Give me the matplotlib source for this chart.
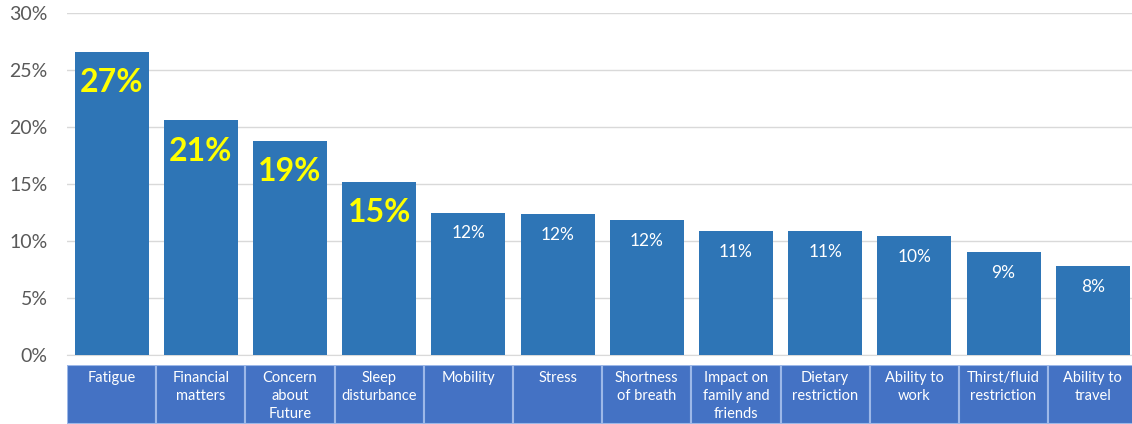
import numpy as np
import matplotlib
matplotlib.use('Agg')
import matplotlib.pyplot as plt
from matplotlib.ticker import FuncFormatter

categories = ['Fatigue', 'Financial\nmatters', 'Concern\nabout\nFuture', 'Sleep\ndisturbance',
              'Mobility', 'Stress', 'Shortness\nof breath', 'Impact on\nfamily and\nfriends',
              'Dietary\nrestriction', 'Ability to\nwork', 'Thirst/fluid\nrestriction', 'Ability to\ntravel']
values = [26.6, 20.6, 18.8, 15.2, 12.5, 12.4, 11.8, 10.9, 10.9, 10.4, 9.0, 7.8]
value_labels = ['27%', '21%', '19%', '15%', '12%', '12%', '12%', '11%', '11%', '10%', '9%', '8%']
yticks = [0, 5, 10, 15, 20, 25, 30]

plt.rcParams['font.family'] = ['Lato', 'DejaVu Sans']

W, H = 1132, 424
fig = plt.figure(figsize=(W / 100, H / 100), dpi=100)

# main bar axes
ax = fig.add_axes([67 / W, (H - 355) / H, (W - 67) / W, (355 - 13) / H])
x = np.arange(len(values))
bars = ax.bar(x, values, width=0.83, color='#2E75B6', zorder=3)
ax.set_xlim(-0.5, 11.44)
ax.set_ylim(0, 30)
ax.set_yticks(yticks)
ax.yaxis.set_major_formatter(FuncFormatter(lambda v, p: '%d%%' % v))
ax.tick_params(axis='y', length=0, labelsize=14, labelcolor='#595959', pad=14)
ax.tick_params(axis='x', length=0, labelbottom=False)
ax.grid(axis='y', color='#D9D9D9', linewidth=1, zorder=0)
for s in ['top', 'right', 'left']:
    ax.spines[s].set_visible(False)
ax.spines['bottom'].set_color('#D9D9D9')

# value labels: first four big yellow, rest white
for i, (b, lab) in enumerate(zip(bars, value_labels)):
    cx = b.get_x() + b.get_width() / 2
    top = b.get_height()
    if i < 4:
        ax.annotate(lab, (cx, top), xytext=(0, -31), textcoords='offset pixels',
                    ha='center', va='center', fontsize=23, fontweight='bold',
                    color='#FFFF00', zorder=4)
    else:
        ax.annotate(lab, (cx, top), xytext=(0, -21), textcoords='offset pixels',
                    ha='center', va='center', fontsize=12.5, color='white', zorder=4)

# category boxes below
ax2 = fig.add_axes([67 / W, 0, (W - 67) / W, (H - 365) / H])
ax2.bar(x, [1] * len(x), width=1.0, color='#4472C4', edgecolor='#9DB8E8', linewidth=1.5)
ax2.set_xlim(-0.5, 11.44)
ax2.set_ylim(0, 1)
ax2.axis('off')
for i, c in enumerate(categories):
    ax2.text(i, 0.9, c, ha='center', va='top', fontsize=10.5, color='white', linespacing=1.35)

fig.savefig('out.png', dpi=100)
